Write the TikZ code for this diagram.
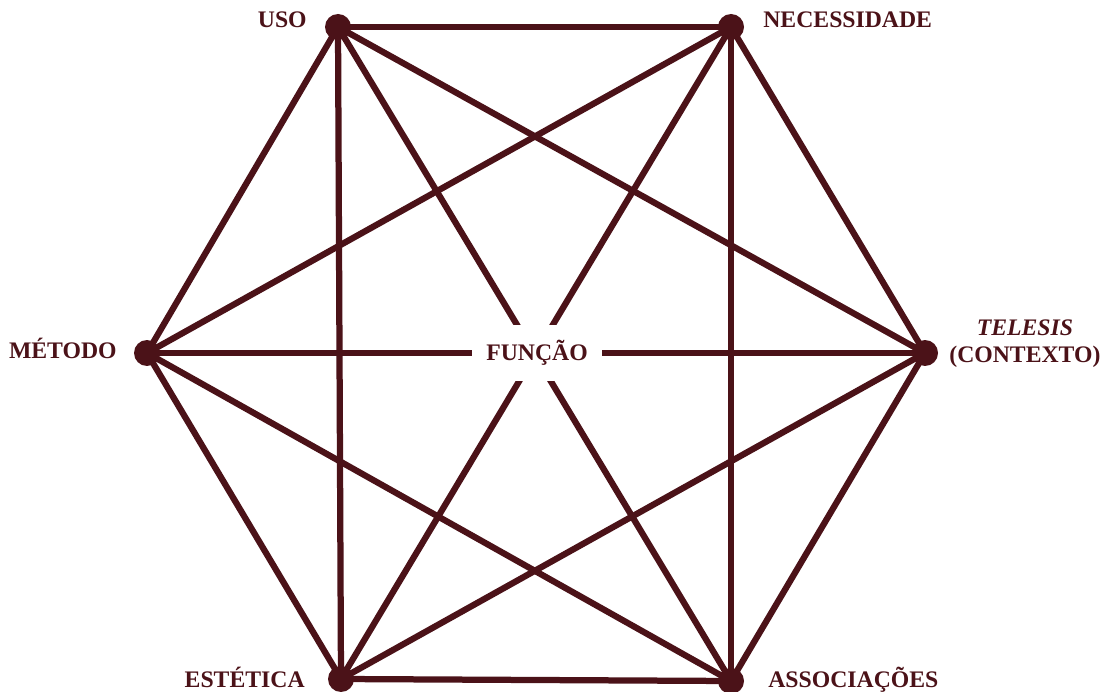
\documentclass[tikz,border=0pt]{standalone}
\usepackage{fontspec}
\setmainfont{Liberation Serif}
\usetikzlibrary{positioning}
\definecolor{vinho}{HTML}{4B1218}

\begin{document}
\begin{tikzpicture}[x=0.02cm,y=-0.02cm,
 font=\fontsize{13.5}{15.5}\selectfont\bfseries,
 pt/.style={circle,fill=vinho,inner sep=0pt,minimum size=0.52cm},
 lbl/.style={text=vinho,align=center,inner sep=0pt},
 ln/.style={vinho,line width=0.125cm}]
\useasboundingbox (0,0) rectangle (1102,692);
\node[pt] (uso) at (338,27) {};
\node[pt] (nec) at (731,27) {};
\node[pt] (tel) at (925,353) {};
\node[pt] (ass) at (731,681) {};
\node[pt] (est) at (341,679) {};
\node[pt] (met) at (147,353) {};
\foreach \a/\b in {uso/nec,uso/tel,uso/ass,uso/est,uso/met,nec/tel,nec/ass,nec/est,nec/met,
 tel/ass,tel/est,tel/met,ass/est,ass/met,est/met}
 \draw[ln] (\a.center) -- (\b.center);
\node[lbl,fill=white,minimum width=2.6cm,minimum height=1.12cm] (fun) at (537,353) {FUNÇÃO};
\node[lbl,anchor=base east] (luso) at (307,28) {USO};
\node[lbl,anchor=base west] (lnec) at (763,28) {NECESSIDADE};
\node[lbl,anchor=base east] (lmet) at (117,358) {MÉTODO};
\node[lbl,anchor=west] (ltel) at (949,344) {\textit{TELESIS}\\(CONTEXTO)};
\node[lbl,anchor=base east] (lest) at (305,687) {ESTÉTICA};
\node[lbl,anchor=base west] (lass) at (768,687) {ASSOCIAÇÕES};
\end{tikzpicture}
\end{document}
